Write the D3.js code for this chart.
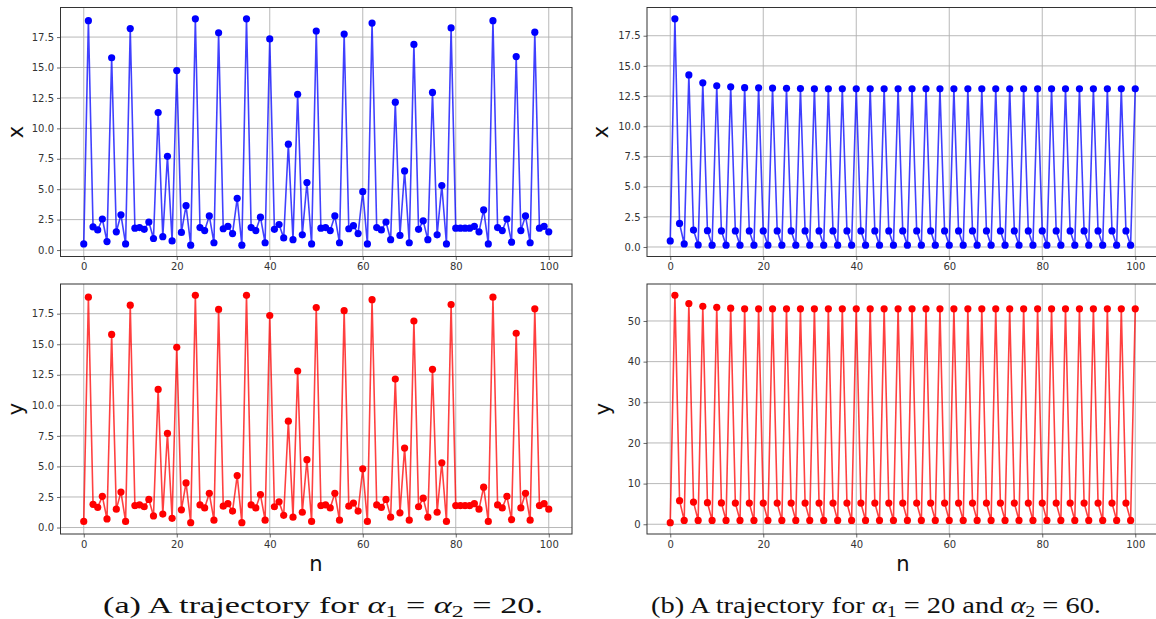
<!DOCTYPE html>
<html>
<head>
<meta charset="utf-8">
<script src="https://cdn.jsdelivr.net/npm/d3@7"></script>
<style>
  html, body { margin: 0; padding: 0; background: #fff; }
  svg { display: block; }
</style>
</head>
<body>
<svg id="chart" width="1156" height="619"></svg>
<script>
// ---------- data ----------
const nTicks = [0, 20, 40, 60, 80, 100];
const ticks175 = [0, 2.5, 5, 7.5, 10, 12.5, 15, 17.5];
const ticks50 = [0, 10, 20, 30, 40, 50];

// (a) alpha1 = alpha2 = 20
const leftX = [
  0.5,18.85,1.9,1.65,2.55,0.7,15.8,1.5,2.9,0.5,
  18.2,1.8,1.85,1.7,2.3,0.95,11.3,1.1,7.7,0.75,
  14.75,1.45,3.65,0.4,19.0,1.85,1.6,2.8,0.6,17.85,
  1.75,1.95,1.35,4.25,0.4,19.0,1.85,1.6,2.7,0.6,
  17.35,1.7,2.1,1.0,8.7,0.85,12.8,1.25,5.55,0.5,
  18.0,1.8,1.85,1.6,2.8,0.6,17.75,1.75,2.0,1.35,
  4.8,0.5,18.65,1.85,1.65,2.3,0.85,12.15,1.2,6.5,
  0.6,16.9,1.7,2.4,0.85,12.95,1.25,5.3,0.5,18.25,
  1.8,1.8,1.8,1.8,1.95,1.5,3.3,0.5,18.85,1.85,
  1.6,2.55,0.65,15.9,1.6,2.8,0.6,17.9,1.8,1.95,
  1.5
];
const leftY = [
  0.5,18.85,1.9,1.65,2.55,0.7,15.8,1.5,2.9,0.5,
  18.2,1.8,1.85,1.7,2.3,0.95,11.3,1.1,7.7,0.75,
  14.75,1.45,3.65,0.4,19.0,1.85,1.6,2.8,0.6,17.85,
  1.75,1.95,1.35,4.25,0.4,19.0,1.85,1.6,2.7,0.6,
  17.35,1.7,2.1,1.0,8.7,0.85,12.8,1.25,5.55,0.5,
  18.0,1.8,1.85,1.6,2.8,0.6,17.75,1.75,2.0,1.35,
  4.8,0.5,18.65,1.85,1.65,2.3,0.85,12.15,1.2,6.5,
  0.6,16.9,1.7,2.4,0.85,12.95,1.25,5.3,0.5,18.25,
  1.8,1.8,1.8,1.8,1.95,1.5,3.3,0.5,18.85,1.85,
  1.6,2.55,0.65,15.9,1.6,2.8,0.6,17.9,1.8,1.95,
  1.5
];

// (b) alpha1 = 20, alpha2 = 60
const rightX = [
  0.5,
  18.9,1.95,0.25,  14.25,1.4,0.17,  13.6,1.35,0.15,  13.35,1.33,0.15,
  13.27,1.33,0.15, 13.2,1.33,0.15,  13.18,1.33,0.15, 13.16,1.33,0.15,
  13.15,1.33,0.15, 13.12,1.33,0.15, 13.1,1.33,0.15,  13.1,1.33,0.15,
  13.1,1.33,0.15,  13.1,1.33,0.15,  13.1,1.33,0.15,  13.1,1.33,0.15,
  13.1,1.33,0.15,  13.1,1.33,0.15,  13.1,1.33,0.15,  13.1,1.33,0.15,
  13.1,1.33,0.15,  13.1,1.33,0.15,  13.1,1.33,0.15,  13.1,1.33,0.15,
  13.1,1.33,0.15,  13.1,1.33,0.15,  13.1,1.33,0.15,  13.1,1.33,0.15,
  13.1,1.33,0.15,  13.1,1.33,0.15,  13.1,1.33,0.15,  13.1,1.33,0.15,
  13.1,1.33,0.15,
  13.1
];
const rightY = [
  0.4,
  56.3,5.8,0.95,   54.3,5.45,0.95,  53.6,5.3,0.95,   53.35,5.25,0.95,
  53.15,5.2,0.95,  53.0,5.2,0.95,   53.0,5.2,0.95,   53.0,5.2,0.95,
  53.0,5.2,0.95,   53.0,5.2,0.95,   53.0,5.2,0.95,   53.0,5.2,0.95,
  53.0,5.2,0.95,   53.0,5.2,0.95,   53.0,5.2,0.95,   53.0,5.2,0.95,
  53.0,5.2,0.95,   53.0,5.2,0.95,   53.0,5.2,0.95,   53.0,5.2,0.95,
  53.0,5.2,0.95,   53.0,5.2,0.95,   53.0,5.2,0.95,   53.0,5.2,0.95,
  53.0,5.2,0.95,   53.0,5.2,0.95,   53.0,5.2,0.95,   53.0,5.2,0.95,
  53.0,5.2,0.95,   53.0,5.2,0.95,   53.0,5.2,0.95,   53.0,5.2,0.95,
  53.0,5.2,0.95,
  53.0
];

// ---------- drawing ----------
const svg = d3.select("#chart");
const FONT = "'DejaVu Sans', sans-serif";

function panel(cfg) {
  const { left, right, top, bottom, values, color, lineColor, yTicks, yFmt, ylabel, ylabelX, xlabel, xlabelX } = cfg;
  const data = values.map((v, i) => ({ n: i, v }));
  const x = d3.scaleLinear().domain([-5, 105]).range([left, right]);
  const ext = d3.extent(values);
  const pad = (ext[1] - ext[0]) * 0.05;
  const y = d3.scaleLinear().domain([ext[0] - pad, ext[1] + pad]).range([bottom, top]);

  const g = svg.append("g");
  const clipId = "clip" + Math.round(left) + "_" + Math.round(top);
  svg.append("clipPath").attr("id", clipId)
    .append("rect").attr("x", left).attr("y", top).attr("width", right - left).attr("height", bottom - top);

  // grid
  const grid = g.append("g").attr("clip-path", `url(#${clipId})`);
  grid.selectAll("line.vx").data(nTicks).join("line")
    .attr("x1", d => x(d)).attr("x2", d => x(d)).attr("y1", top).attr("y2", bottom)
    .attr("stroke", "#b0b0b0").attr("stroke-width", 0.9);
  grid.selectAll("line.hy").data(yTicks).join("line")
    .attr("y1", d => y(d)).attr("y2", d => y(d)).attr("x1", left).attr("x2", right)
    .attr("stroke", "#b0b0b0").attr("stroke-width", 0.9);

  // data
  const plot = g.append("g").attr("clip-path", `url(#${clipId})`);
  plot.append("path").datum(data)
    .attr("d", d3.line().x(d => x(d.n)).y(d => y(d.v)))
    .attr("fill", "none").attr("stroke", lineColor).attr("stroke-width", 1.6)
    .attr("stroke-linejoin", "round");
  plot.selectAll("circle").data(data).join("circle")
    .attr("cx", d => x(d.n)).attr("cy", d => y(d.v)).attr("r", 3.6)
    .attr("fill", color);

  // axes
  const ax = g.append("g").attr("transform", `translate(0,${bottom})`)
    .call(d3.axisBottom(x).tickValues(nTicks).tickSize(3.5).tickPadding(3).tickFormat(d3.format("d")));
  const ay = g.append("g").attr("transform", `translate(${left},0)`)
    .call(d3.axisLeft(y).tickValues(yTicks).tickSize(3.5).tickPadding(3).tickFormat(yFmt));
  [ax, ay].forEach(a => {
    a.select(".domain").remove();
    a.selectAll(".tick line").attr("stroke", "#444").attr("stroke-width", 0.8);
    a.selectAll(".tick text").attr("fill", "#333").style("font-family", FONT).style("font-size", "10px");
  });

  // frame
  g.append("rect").attr("x", left).attr("y", top).attr("width", right - left).attr("height", bottom - top)
    .attr("fill", "none").attr("stroke", "#333").attr("stroke-width", 1);

  // y label
  g.append("text")
    .attr("transform", `translate(${ylabelX},${(top + bottom) / 2}) rotate(-90)`)
    .attr("text-anchor", "middle").attr("dominant-baseline", "central")
    .style("font-family", FONT).style("font-size", "21px").attr("fill", "#111")
    .text(ylabel);

  if (xlabel) {
    g.append("text")
      .attr("x", xlabelX).attr("y", bottom + 37)
      .attr("text-anchor", "middle")
      .style("font-family", FONT).style("font-size", "21px").attr("fill", "#111")
      .text(xlabel);
  }
}

const fmt1 = d3.format(".1f");
const fmt0 = d3.format("d");

const L = { left: 60.5, right: 572 };
const R = { left: 647, right: 1158.5 };
const T = { top: 7.5, bottom: 256.5 };
const B = { top: 284, bottom: 534 };

panel({ ...L, ...T, values: leftX, color: "#0000ff", lineColor: "rgba(0,0,255,0.75)", yTicks: ticks175, yFmt: fmt1, ylabel: "x", ylabelX: 16 });
panel({ ...L, ...B, values: leftY, color: "#ff0000", lineColor: "rgba(255,0,0,0.75)", yTicks: ticks175, yFmt: fmt1, ylabel: "y", ylabelX: 16, xlabel: "n", xlabelX: 316 });
panel({ ...R, ...T, values: rightX, color: "#0000ff", lineColor: "rgba(0,0,255,0.75)", yTicks: ticks175, yFmt: fmt1, ylabel: "x", ylabelX: 601 });
panel({ ...R, ...B, values: rightY, color: "#ff0000", lineColor: "rgba(255,0,0,0.75)", yTicks: ticks50, yFmt: fmt0, ylabel: "y", ylabelX: 603, xlabel: "n", xlabelX: 903 });

// captions
const SERIF = "'Liberation Serif', 'DejaVu Serif', serif";
function caption(cx, parts, width) {
  const t = svg.append("text").attr("x", cx).attr("y", 613).attr("text-anchor", "middle")
    .style("font-family", SERIF).style("font-size", "23px").attr("fill", "#111");
  parts.forEach(p => {
    const s = t.append("tspan").text(p.t);
    if (p.i) s.style("font-style", "italic");
    if (p.sub) s.attr("baseline-shift", "-25%").style("font-size", "16px");
  });
  t.attr("textLength", width).attr("lengthAdjust", "spacingAndGlyphs");
}
caption(323, [
  { t: "(a) A trajectory for " }, { t: "α", i: true }, { t: "1", sub: true },
  { t: " = " }, { t: "α", i: true }, { t: "2", sub: true }, { t: " = 20." }
], 440);
caption(876, [
  { t: "(b) A trajectory for " }, { t: "α", i: true }, { t: "1", sub: true },
  { t: " = 20 and " }, { t: "α", i: true }, { t: "2", sub: true }, { t: " = 60." }
], 450);
</script>
</body>
</html>
